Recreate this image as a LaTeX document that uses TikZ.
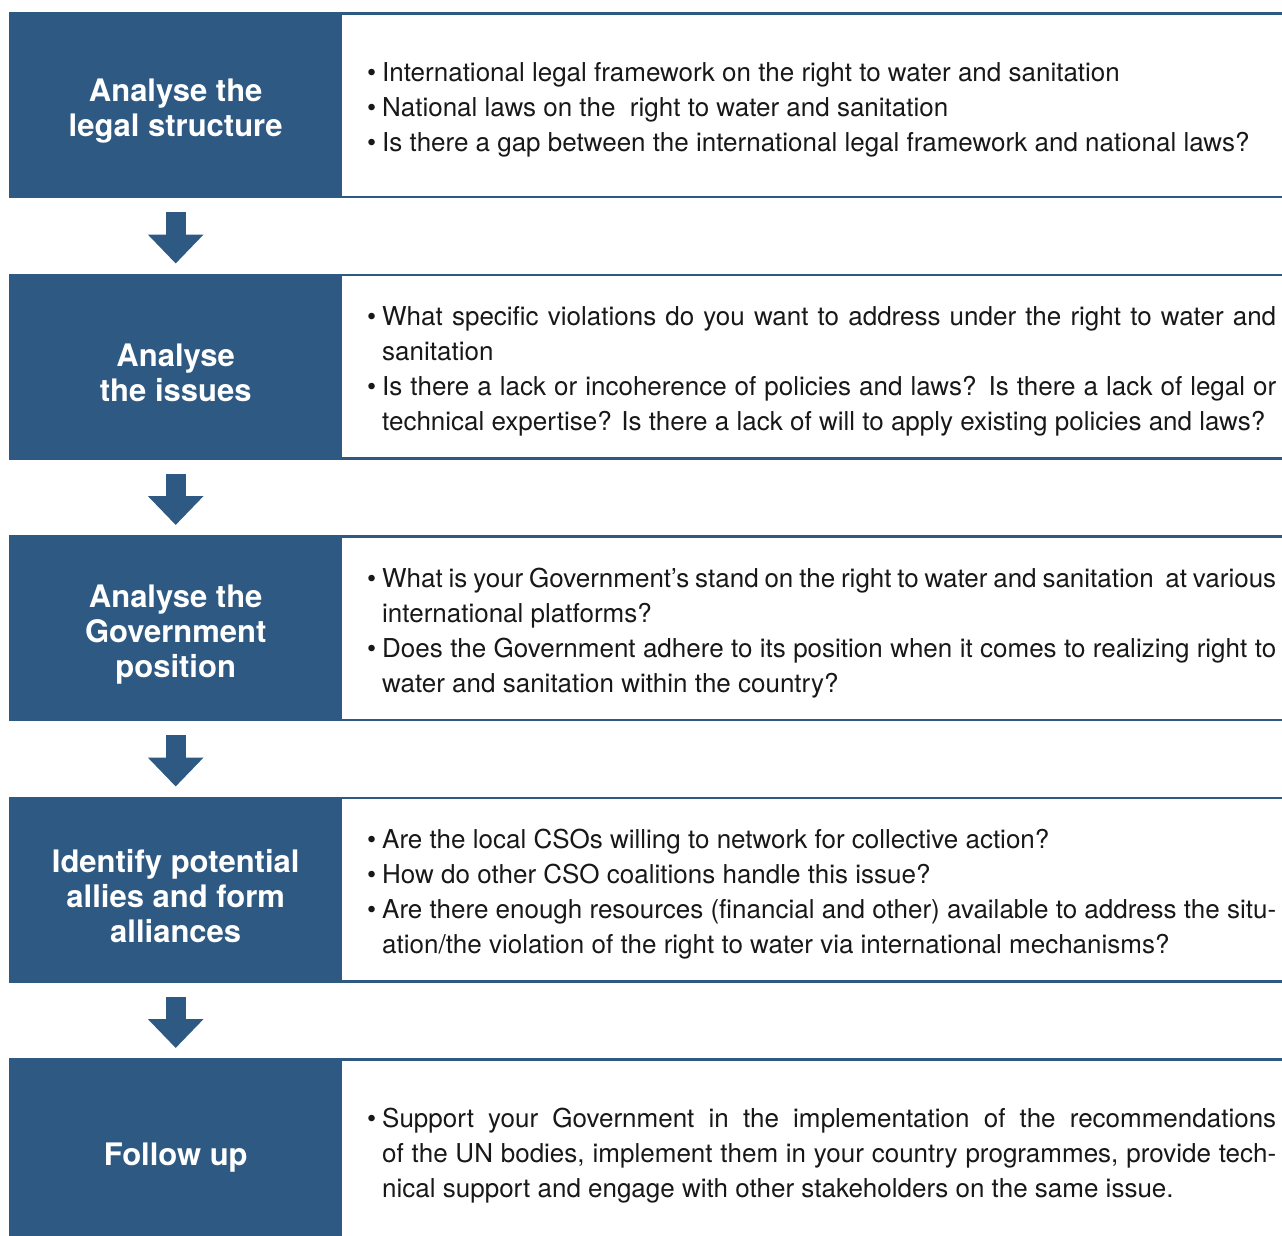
\documentclass[tikz,border=0pt]{standalone}
\usepackage{fontspec}
\setmainfont{TeX Gyre Heros}
\usetikzlibrary{arrows.meta}

\newlength{\du}
\setlength{\du}{1pt}
\definecolor{stageblue}{RGB}{46,89,130}
\definecolor{bodytext}{RGB}{24,24,24}

% one bullet, hung in the left margin of the text
\newcommand{\hangbullet}{\llap{\textbullet\hspace{6\du}}}
% a line that is set flush on both sides
\newcommand{\jline}[1]{\makebox[894\du][s]{#1}}
% extra room above the first line of a heading
\newcommand{\headstrut}{\rule{0pt}{35\du}}

\tikzset{
  stagebox/.style={rectangle, fill=stageblue, text=white, inner sep=0pt,
    minimum width=333\du, minimum height=186\du, anchor=north west,
    align=center, font=\fontsize{31}{35}\selectfont\bfseries},
  panel/.style={rectangle, inner sep=0pt, minimum width=940\du,
    minimum height=183\du, anchor=north west},
  panelline/.style={draw=stageblue, line width=2.5\du},
  bullets/.style={anchor=west, inner sep=0pt, align=left, text=bodytext,
    font=\fontsize{26}{35}\selectfont},
  downarrow/.style={draw=stageblue, line width=20\du, shorten <=14\du,
    shorten >=10\du, -{Triangle[width=54pt,length=29pt]}}
}

\begin{document}
\begin{tikzpicture}
\pgftransformxscale{1.000000}
\pgftransformyscale{-1.000000}
\useasboundingbox (0\du,0\du) rectangle (1282\du,1235\du);

% stage 1
\node[stagebox] (legal) at (9\du,12\du) {\headstrut Analyse the\\legal structure};
\node[panel] (legalpanel) at (342\du,13.5\du) {};
\draw[panelline] (legalpanel.north west) -- (legalpanel.north east);
\draw[panelline] (legalpanel.south west) -- (legalpanel.south east);
\node[bullets] (legaltext) at (382\du,110\du) {%
\hangbullet International legal framework on the right to water and sanitation\\
\hangbullet National laws on the~ right to water and sanitation\\
\hangbullet Is there a gap between the international legal framework and national laws?};

% stage 2
\node[stagebox] (issues) at (9\du,273.5\du) {\headstrut Analyse\\the issues};
\node[panel] (issuespanel) at (342\du,275\du) {};
\draw[panelline] (issuespanel.north west) -- (issuespanel.north east);
\draw[panelline] (issuespanel.south west) -- (issuespanel.south east);
\node[bullets] (issuestext) at (382\du,371.5\du) {%
\hangbullet\jline{What specific violations do you want to address under the right to water and}\\
sanitation\\
\hangbullet\jline{Is there a lack or incoherence of policies and laws? Is there a lack of legal or}\\
technical expertise? Is there a lack of will to apply existing policies and laws?};

% stage 3
\node[stagebox] (govt) at (9\du,535\du) {\headstrut Analyse the\\Government\\position};
\node[panel] (govtpanel) at (342\du,536.5\du) {};
\draw[panelline] (govtpanel.north west) -- (govtpanel.north east);
\draw[panelline] (govtpanel.south west) -- (govtpanel.south east);
\node[bullets] (govttext) at (382\du,633\du) {%
\hangbullet\jline{What is your Government’s stand on the right to water and sanitation~ at various}\\
international platforms?\\
\hangbullet\jline{Does the Government adhere to its position when it comes to realizing right to}\\
water and sanitation within the country?};

% stage 4
\node[stagebox] (allies) at (9\du,796.5\du) {\headstrut Identify potential\\allies and form\\alliances};
\node[panel] (alliespanel) at (342\du,798\du) {};
\draw[panelline] (alliespanel.north west) -- (alliespanel.north east);
\draw[panelline] (alliespanel.south west) -- (alliespanel.south east);
\node[bullets] (alliestext) at (382\du,894.5\du) {%
\hangbullet Are the local CSOs willing to network for collective action?\\
\hangbullet How do other CSO coalitions handle this issue?\\
\hangbullet\jline{Are there enough resources (financial and other) available to address the situ-}\\
ation/the violation of the right to water via international mechanisms?};

% stage 5
\node[stagebox] (follow) at (9\du,1058\du) {\headstrut Follow up};
\node[panel] (followpanel) at (342\du,1059.5\du) {};
\draw[panelline] (followpanel.north west) -- (followpanel.north east);
\node[bullets] (followtext) at (382\du,1156\du) {%
\hangbullet\jline{Support your Government in the implementation of the recommendations}\\
\jline{of the UN bodies, implement them in your country programmes, provide tech-}\\
nical support and engage with other stakeholders on the same issue.};

% arrows between the stages
\draw[downarrow] (legal.south) -- (issues.north);
\draw[downarrow] (issues.south) -- (govt.north);
\draw[downarrow] (govt.south) -- (allies.north);
\draw[downarrow] (allies.south) -- (follow.north);
\end{tikzpicture}
\end{document}
